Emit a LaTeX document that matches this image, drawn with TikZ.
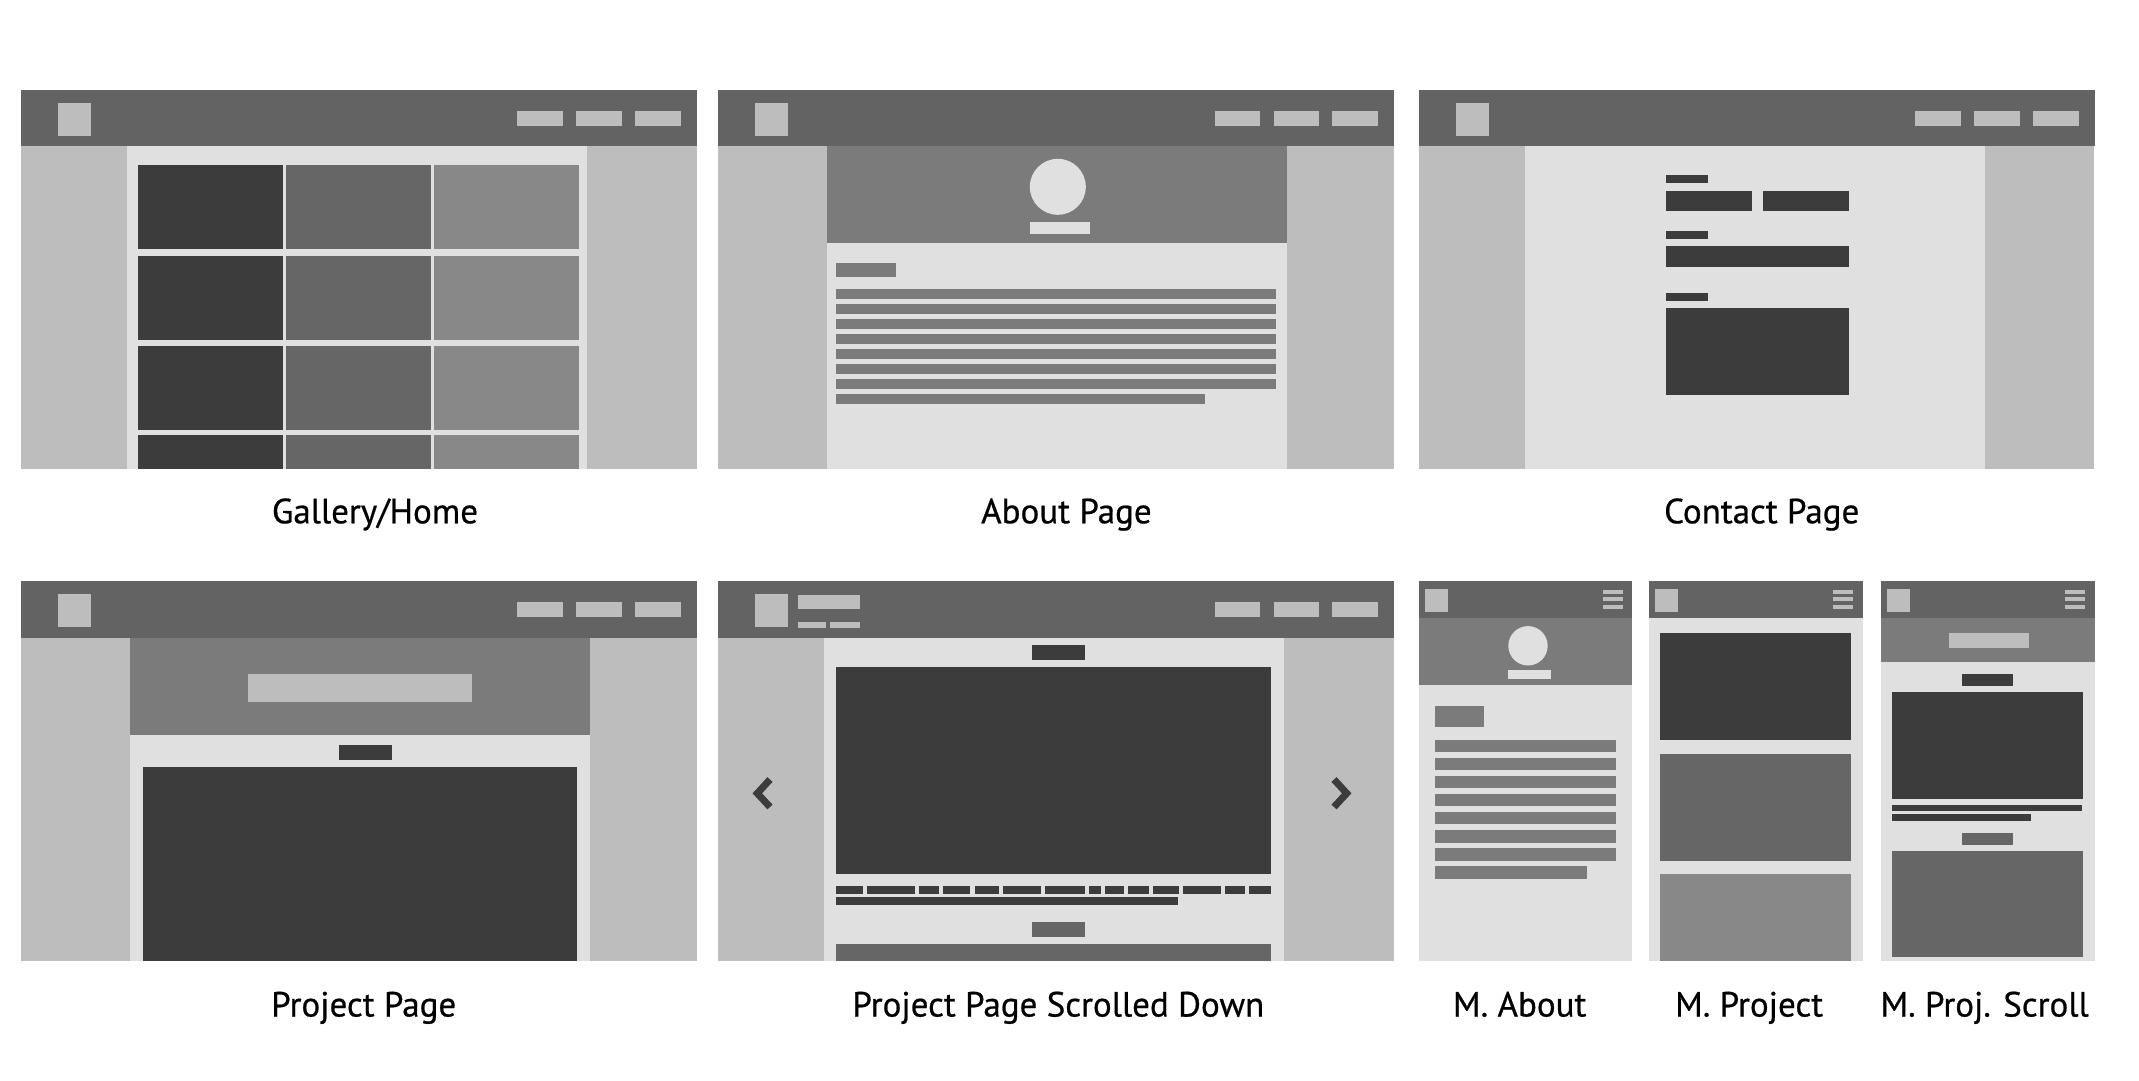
\documentclass[tikz,border=0pt]{standalone}
\usepackage{fontspec}
\setmainfont{PT Sans}
\definecolor{hdr}{HTML}{636363}
\definecolor{side}{HTML}{BDBDBD}
\definecolor{page}{HTML}{E0E0E0}
\definecolor{dark}{HTML}{3C3C3C}
\definecolor{mid}{HTML}{666666}
\definecolor{light}{HTML}{888888}
\definecolor{hero}{HTML}{7B7B7B}
% desktop header bar: logo block and three nav buttons
\newcommand\dhead[2]{%
  \fill[hdr] (#1,#2) rectangle ++(675.8,56.4);
  \fill[side] (#1+37.2,#2+13) rectangle ++(32.6,32.7);
  \foreach \o in {496.4,555.3,614.2}
    \fill[side] (#1+\o,#2+21) rectangle ++(45.5,14.7);
}
% mobile header bar: logo block and hamburger icon
\newcommand\mhead[2]{%
  \fill[hdr] (#1,#2) rectangle ++(213.6,36.5);
  \fill[side] (#1+6.1,#2+8) rectangle ++(22.8,22.7);
  \foreach \o in {9.3,16.3,23.7}
    \fill[side] (#1+184,#2+\o) rectangle ++(20,4);
}
\begin{document}
\begin{tikzpicture}[x=1pt,y=-1pt,
  caption/.style={font=\fontsize{35}{42}\selectfont\addfontfeature{FakeBold=0.6}, text=black, anchor=base, inner sep=0pt},
  chev/.style={draw=dark, line width=7pt, line join=miter, line cap=butt}]
\useasboundingbox[fill=white] (0,0) rectangle (2139,1080);

%% ---------- Gallery / Home ----------
\fill[side] (20.8,90) rectangle (696.6,469.3);
\fill[page] (126.8,145.7) rectangle (587,469.3);
\dhead{20.8}{90}
\foreach \ya/\yb in {165/248.7,256/339.7,346/429.7,435/469.3}{
  \fill[dark]  (138.1,\ya) rectangle (282.6,\yb);
  \fill[mid]   (286.2,\ya) rectangle (430.7,\yb);
  \fill[light] (433.9,\ya) rectangle (578.8,\yb);
}
\node[caption] (lgallery) at (375,523.3) {Gallery/Home};

%% ---------- About ----------
\fill[side] (718.2,90) rectangle (1393.9,469.3);
\fill[page] (826.8,145.7) rectangle (1286.5,469.3);
\fill[hero] (826.8,145.7) rectangle (1286.5,242.7);
\dhead{718.2}{90}
\fill[page] (1057.8,186.8) circle (28pt);
\fill[page] (1030.2,222) rectangle (1089.5,233.7);
\fill[hero] (835.9,263) rectangle (895.7,276.7);
\foreach \k in {0,...,6}
  \fill[hero] (835.9,289+15*\k) rectangle (1275.7,298.7+15*\k);
\fill[hero] (835.9,394) rectangle (1204.6,403.7);
\node[caption] (labout) at (1066.4,523.3) {About Page};

%% ---------- Contact ----------
\fill[side] (1418.8,90) rectangle (2094.3,469.3);
\fill[page] (1524.8,145.7) rectangle (1985.1,469.3);
\dhead{1418.8}{90}
\fill[dark] (1666.2,175) rectangle (1708,182.7);
\fill[dark] (1666.2,191) rectangle (1752.2,210.7);
\fill[dark] (1762.9,191) rectangle (1848.9,210.7);
\fill[dark] (1666.2,231) rectangle (1708,238.7);
\fill[dark] (1666.2,246) rectangle (1848.9,266.7);
\fill[dark] (1666.2,293) rectangle (1708,300.7);
\fill[dark] (1666.2,308) rectangle (1848.9,394.7);
\node[caption] (lcontact) at (1761.7,523.3) {Contact Page};

%% ---------- Project ----------
\fill[side] (20.8,581.3) rectangle (696.6,960.7);
\fill[page] (130,638) rectangle (589.7,960.7);
\fill[hero] (130,638) rectangle (589.7,734.7);
\dhead{20.8}{581.3}
\fill[side] (248.2,674) rectangle (471.5,701.7);
\fill[dark] (339.2,745) rectangle (391.8,759.7);
\fill[dark] (143.1,767) rectangle (577.4,960.7);
\node[caption] (lproject) at (363.7,1016.5) {Project Page};

%% ---------- Project scrolled down ----------
\fill[side] (718.2,581.3) rectangle (1393.9,960.7);
\fill[page] (824.1,638) rectangle (1283.8,960.7);
\dhead{718.2}{581.3}
\fill[side] (797.9,595) rectangle (860.4,608.7);
\fill[side] (797.9,622) rectangle (826.4,627.7);
\fill[side] (830,622) rectangle (860.4,627.7);
\fill[dark] (1032,645) rectangle (1084.5,659.7);
\fill[dark] (835.9,667) rectangle (1270.7,874.3);
\foreach \xa/\xb in {835.9/862.6,867.2/914.7,919.2/938.7,943.2/970.4,974.9/998.5,
    1003/1040.6,1045.1/1084.5,1089.1/1100.9,1104.9/1123.5,1128/1148.9,
    1152.9/1178.8,1183.3/1220.9,1225.4/1244.9,1248.5/1270.7}
  \fill[dark] (\xa,886) rectangle (\xb,893.7);
\fill[dark] (835.9,897) rectangle (1177.8,904.7);
\fill[mid] (1032,922) rectangle (1084.5,936.7);
\fill[mid] (835.9,944) rectangle (1270.7,960.7);
\draw[chev] (770,779.5) -- (757.3,793.3) -- (770,807);
\draw[chev] (1334,779.5) -- (1346.7,793.3) -- (1334,807);
\node[caption] (lscroll) at (1058.3,1016.5) {Project Page Scrolled Down};

%% ---------- Mobile about ----------
\fill[page] (1418.8,581) rectangle (1632.4,960.7);
\fill[hero] (1418.8,617.5) rectangle (1632.4,685);
\mhead{1418.8}{581}
\fill[page] (1528,645.8) circle (19.7pt);
\fill[page] (1508.4,670.3) rectangle (1550.5,678.7);
\fill[hero] (1435.1,706) rectangle (1484.4,726.7);
\foreach \k in {0,...,6}
  \fill[hero] (1435.1,739.7+18.1*\k) rectangle (1616.4,752+18.1*\k);
\fill[hero] (1435.1,866.4) rectangle (1587.1,878.7);
\node[caption] (lmabout) at (1519.7,1016.5) {M. About};

%% ---------- Mobile project ----------
\fill[page] (1649,581) rectangle (1862.6,960.7);
\mhead{1649}{581}
\fill[dark]  (1660.1,633) rectangle (1850.7,739.7);
\fill[mid]   (1660.1,754) rectangle (1850.7,860.7);
\fill[light] (1660.1,874) rectangle (1850.7,960.7);
\node[caption] (lmproject) at (1749.1,1016.5) {M. Project};

%% ---------- Mobile project scrolled ----------
\fill[page] (1880.9,581) rectangle (2094.5,960.7);
\fill[hero] (1880.9,617.5) rectangle (2094.5,661.7);
\mhead{1880.9}{581}
\fill[side] (1949.3,633) rectangle (2028.8,647.7);
\fill[dark] (1962.3,674) rectangle (2013,685.7);
\fill[dark] (1892.1,692) rectangle (2082.7,798.7);
\fill[dark] (1892.1,805) rectangle (2081.8,810.7);
\fill[dark] (1892.1,814.3) rectangle (2030.6,820.7);
\fill[mid] (1962.3,833) rectangle (2013,844.7);
\fill[mid] (1892.1,851) rectangle (2082.7,957.3);
\node[caption] (lmscroll) at (1984.6,1016.5) {M. Proj. Scroll};
\end{tikzpicture}
\end{document}
